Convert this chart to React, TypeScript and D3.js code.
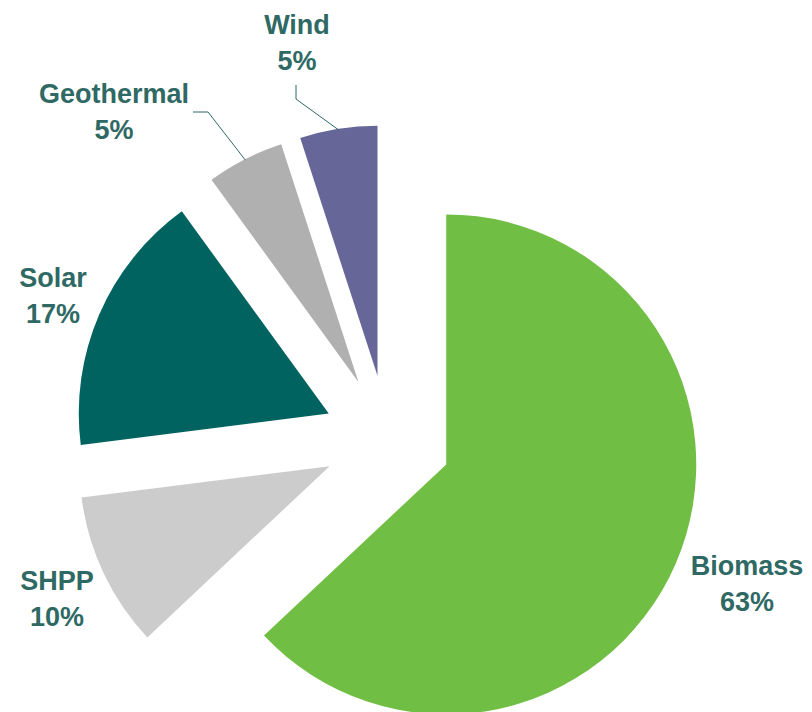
import React from "react";
import * as d3 from "d3";

const categories = ["Biomass", "SHPP", "Solar", "Geothermal", "Wind"];
const values = [63, 10, 17, 5, 5];
const colors = ["#70BF44", "#CCCCCC", "#00635F", "#B0B0B0", "#666699"];

// layout (not data)
const W = 812;
const H = 712;
const CX = 387.5;
const CY = 439;
const R = 250;
const EXPLODE = 64;
const labelAnchors: [number, number][] = [
  [747, 575],
  [57, 590],
  [53, 287],
  [114, 103],
  [297, 34],
];
// leader: [startX, startY, kneeX, kneeY] or null
const leaders: ([number, number, number, number] | null)[] = [
  null,
  null,
  null,
  [193, 112, 208, 112],
  [296, 85, 296, 99],
];
const TEXT_COLOR = "#2F6964";

export default function App() {
  const pie = d3
    .pie<number>()
    .sort(null)
    .value((d) => d)
    .startAngle(0)
    .endAngle(2 * Math.PI);
  const arcs = pie(values);
  const arcGen = d3.arc<d3.PieArcDatum<number>>().innerRadius(0).outerRadius(R);
  const total = d3.sum(values);

  return (
    <svg
      width={W}
      height={H}
      style={{ position: "absolute", left: 0, top: 0, background: "#fff" }}
    >
      {arcs.map((a, i) => {
        const mid = (a.startAngle + a.endAngle) / 2;
        const dx = EXPLODE * Math.sin(mid);
        const dy = -EXPLODE * Math.cos(mid);
        return (
          <path
            key={categories[i]}
            d={arcGen(a) || ""}
            fill={colors[i]}
            transform={`translate(${CX + dx},${CY + dy})`}
          />
        );
      })}
      {arcs.map((a, i) => {
        const ld = leaders[i];
        if (!ld) return null;
        const mid = (a.startAngle + a.endAngle) / 2;
        const ox = CX + EXPLODE * Math.sin(mid) + (R - 1) * Math.sin(mid);
        const oy = CY - EXPLODE * Math.cos(mid) - (R - 1) * Math.cos(mid);
        return (
          <polyline
            key={"l" + i}
            points={`${ld[0]},${ld[1]} ${ld[2]},${ld[3]} ${ox},${oy}`}
            fill="none"
            stroke={TEXT_COLOR}
            strokeWidth={1}
          />
        );
      })}
      {arcs.map((a, i) => {
        const [x, y] = labelAnchors[i];
        const pct = Math.round((values[i] / total) * 100);
        return (
          <text
            key={"t" + i}
            x={x}
            y={y}
            textAnchor="middle"
            fontFamily="'Liberation Sans', Arial, sans-serif"
            fontWeight="bold"
            fontSize={27}
            fill={TEXT_COLOR}
          >
            <tspan x={x} y={y}>
              {categories[i]}
            </tspan>
            <tspan x={x} y={y + 36}>
              {pct}%
            </tspan>
          </text>
        );
      })}
    </svg>
  );
}
